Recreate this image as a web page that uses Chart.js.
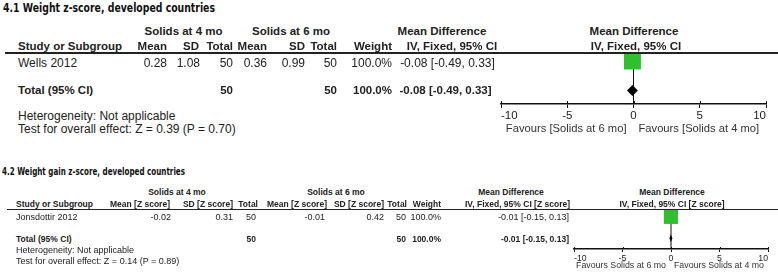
<!DOCTYPE html>
<html>
<head>
<meta charset="utf-8">
<script src="https://cdn.jsdelivr.net/npm/chart.js@4.4.1/dist/chart.umd.min.js"></script>
<style>
  html, body { margin: 0; padding: 0; background: #fff; }
  #stage { position: relative; width: 778px; height: 272px; overflow: hidden; font-family: "Liberation Sans", Arial, Helvetica, sans-serif; color: #222; }
  .txt { position: absolute; white-space: nowrap; }
  .title { font-family: "DejaVu Sans Condensed", "Liberation Sans Narrow", "Liberation Sans", sans-serif; font-weight: bold; font-stretch: condensed; transform-origin: left center; color: #111; }
  .rule { position: absolute; background: #222; }
  canvas { position: absolute; }
</style>
</head>
<body>
<div id="stage">
  <canvas id="plot1" width="298" height="100" style="left:480px; top:40px;"></canvas>
  <canvas id="plot2" width="218" height="72" style="left:560px; top:200px;"></canvas>
</div>
<script>
// 4.1 Weight z-score
const studies1 = ['Wells 2012'];
const mean4_1 = [0.28];
const sd4_1 = [1.08];
const n4_1 = [50];
const mean6_1 = [0.36];
const sd6_1 = [0.99];
const n6_1 = [50];
const weight1 = [100.0];
const md1 = [-0.08];
const lo1 = [-0.49];
const hi1 = [0.33];
const total1 = { n4: 50, n6: 50, weight: 100.0, md: -0.08, lo: -0.49, hi: 0.33 };
const effect1 = 'Test for overall effect: Z = 0.39 (P = 0.70)';

// 4.2 Weight gain z-score
const studies2 = ['Jonsdottir 2012'];
const mean4_2 = [-0.02];
const sd4_2 = [0.31];
const n4_2 = [50];
const mean6_2 = [-0.01];
const sd6_2 = [0.42];
const n6_2 = [50];
const weight2 = [100.0];
const md2 = [-0.01];
const lo2 = [-0.15];
const hi2 = [0.13];
const total2 = { n4: 50, n6: 50, weight: 100.0, md: -0.01, lo: -0.15, hi: 0.13 };
const effect2 = 'Test for overall effect: Z = 0.14 (P = 0.89)';

const xTicks = [-10, -5, 0, 5, 10];

const GREEN = '#2fbf2f';
const FONT = '"Liberation Sans", Arial, Helvetica, sans-serif';

const stage = document.getElementById('stage');

function put(text, x, y, o = {}) {
  const d = document.createElement('div');
  d.className = 'txt' + (o.cls ? ' ' + o.cls : '');
  d.textContent = text;
  const size = o.size || 12;
  d.style.fontSize = size + 'px';
  d.style.lineHeight = size + 'px';
  d.style.top = (y - size / 2) + 'px';
  if (o.bold) d.style.fontWeight = 'bold';
  if (o.align === 'right') {
    d.style.left = (x - 400) + 'px'; d.style.width = '400px'; d.style.textAlign = 'right';
  } else if (o.align === 'center') {
    d.style.left = (x - 200) + 'px'; d.style.width = '400px'; d.style.textAlign = 'center';
  } else {
    d.style.left = x + 'px';
  }
  stage.appendChild(d);
  return d;
}

function rule(x, y, w, h) {
  const d = document.createElement('div');
  d.className = 'rule';
  d.style.left = x + 'px'; d.style.top = y + 'px';
  d.style.width = w + 'px'; d.style.height = h + 'px';
  stage.appendChild(d);
}

// squeeze a title to the width it has in the figure
function fitTitle(el, w) {
  const r = el.getBoundingClientRect().width;
  if (r > 0) el.style.transform = 'scaleX(' + (w / r) + ')';
}

const fmt = v => v.toFixed(2);
const ci = (m, l, h) => `${fmt(m)} [${fmt(l)}, ${fmt(h)}]`;

// ---------- panel 1 table ----------
{
  const s = 12, b = 11.5;
  const t = put('4.1 Weight z-score, developed countries', 3, 7, { cls: 'title', size: 13 });
  fitTitle(t, 212);

  put('Solids at 4 mo', 183.5, 32, { align: 'center', bold: true, size: b });
  put('Solids at 6 mo', 291, 32, { align: 'center', bold: true, size: b });
  put('Mean Difference', 442, 32, { align: 'center', bold: true, size: b });
  put('Mean Difference', 634, 32, { align: 'center', bold: true, size: b });

  put('Study or Subgroup', 18, 47, { bold: true, size: b });
  put('Mean', 167, 47, { align: 'right', bold: true, size: b });
  put('SD', 199, 47, { align: 'right', bold: true, size: b });
  put('Total', 233, 47, { align: 'right', bold: true, size: b });
  put('Mean', 267, 47, { align: 'right', bold: true, size: b });
  put('SD', 305, 47, { align: 'right', bold: true, size: b });
  put('Total', 337, 47, { align: 'right', bold: true, size: b });
  put('Weight', 392, 47, { align: 'right', bold: true, size: b });
  put('IV, Fixed, 95% CI', 452, 47, { align: 'center', bold: true, size: b });
  put('IV, Fixed, 95% CI', 636, 47, { align: 'center', bold: true, size: b });

  rule(5, 52, 773, 2);

  studies1.forEach((name, i) => {
    const y = 63 + i * 15;
    put(name, 18, y, { size: s });
    put(fmt(mean4_1[i]), 167, y, { align: 'right', size: s });
    put(fmt(sd4_1[i]), 200, y, { align: 'right', size: s });
    put(String(n4_1[i]), 233, y, { align: 'right', size: s });
    put(fmt(mean6_1[i]), 267, y, { align: 'right', size: s });
    put(fmt(sd6_1[i]), 305, y, { align: 'right', size: s });
    put(String(n6_1[i]), 337, y, { align: 'right', size: s });
    put(weight1[i].toFixed(1) + '%', 392, y, { align: 'right', size: s });
    put(ci(md1[i], lo1[i], hi1[i]), 447.5, y, { align: 'center', size: s });
  });

  put('Total (95% CI)', 18, 91, { bold: true, size: b });
  put(String(total1.n4), 233, 91, { align: 'right', bold: true, size: b });
  put(String(total1.n6), 337, 91, { align: 'right', bold: true, size: b });
  put(total1.weight.toFixed(1) + '%', 392, 91, { align: 'right', bold: true, size: b });
  put(ci(total1.md, total1.lo, total1.hi), 445.5, 91, { align: 'center', bold: true, size: b });
  put('Heterogeneity: Not applicable', 18, 116, { size: s });
  put(effect1, 18, 129, { size: s });
}

// ---------- panel 2 table ----------
{
  const s = 9, b = 8.5;
  const t = put('4.2 Weight gain z-score, developed countries', 2, 171, { cls: 'title', size: 10.5 });
  fitTitle(t, 183);

  put('Solids at 4 mo', 177, 192, { align: 'center', bold: true, size: b });
  put('Solids at 6 mo', 336, 192, { align: 'center', bold: true, size: b });
  put('Mean Difference', 511, 192, { align: 'center', bold: true, size: b });
  put('Mean Difference', 672, 192, { align: 'center', bold: true, size: b });

  put('Study or Subgroup', 16, 204, { bold: true, size: b });
  put('Mean [Z score]', 170, 204, { align: 'right', bold: true, size: b });
  put('SD [Z score]', 233, 204, { align: 'right', bold: true, size: b });
  put('Total', 258, 204, { align: 'right', bold: true, size: b });
  put('Mean [Z score]', 327, 204, { align: 'right', bold: true, size: b });
  put('SD [Z score]', 384, 204, { align: 'right', bold: true, size: b });
  put('Total', 407, 204, { align: 'right', bold: true, size: b });
  put('Weight', 441, 204, { align: 'right', bold: true, size: b });
  put('IV, Fixed, 95% CI [Z score]', 570, 204, { align: 'right', bold: true, size: b });
  put('IV, Fixed, 95% CI [Z score]', 672, 204, { align: 'center', bold: true, size: b });

  rule(7, 208.5, 771, 1.5);

  studies2.forEach((name, i) => {
    const y = 217.5 + i * 11;
    put(name, 16, y, { size: s });
    put(fmt(mean4_2[i]), 171, y, { align: 'right', size: s });
    put(fmt(sd4_2[i]), 233, y, { align: 'right', size: s });
    put(String(n4_2[i]), 256, y, { align: 'right', size: s });
    put(fmt(mean6_2[i]), 325, y, { align: 'right', size: s });
    put(fmt(sd6_2[i]), 384, y, { align: 'right', size: s });
    put(String(n6_2[i]), 406, y, { align: 'right', size: s });
    put(weight2[i].toFixed(1) + '%', 441, y, { align: 'right', size: s });
    put(ci(md2[i], lo2[i], hi2[i]), 569, y, { align: 'right', size: s });
  });

  put('Total (95% CI)', 16, 239, { bold: true, size: b });
  put(String(total2.n4), 256, 239, { align: 'right', bold: true, size: b });
  put(String(total2.n6), 406, 239, { align: 'right', bold: true, size: b });
  put(total2.weight.toFixed(1) + '%', 441, 239, { align: 'right', bold: true, size: b });
  put(ci(total2.md, total2.lo, total2.hi), 569, 239, { align: 'right', bold: true, size: b });
  put('Heterogeneity: Not applicable', 16, 250, { size: s });
  put(effect2, 16, 261, { size: s });
}

// ---------- forest plot drawing ----------
const forestPlugin = {
  id: 'forest',
  beforeDatasetsDraw(chart, args, opts) {
    const { ctx, chartArea, scales: { x, y } } = chart;
    const x0 = x.getPixelForValue(0);
    ctx.save();
    ctx.strokeStyle = '#111';
    ctx.lineWidth = 1;
    ctx.beginPath();
    ctx.moveTo(x0, chartArea.top);
    ctx.lineTo(x0, chartArea.bottom);
    // study confidence intervals
    opts.lo.forEach((lo, i) => {
      const py = y.getPixelForValue(i);
      ctx.moveTo(x.getPixelForValue(lo), py);
      ctx.lineTo(x.getPixelForValue(opts.hi[i]), py);
    });
    ctx.stroke();
    // pooled diamond
    const t = opts.total;
    const ty = y.getPixelForValue(opts.lo.length);
    const h = opts.diamondH;
    ctx.fillStyle = '#000';
    ctx.beginPath();
    ctx.moveTo(x.getPixelForValue(t.lo), ty);
    ctx.lineTo(x.getPixelForValue(t.md), ty - h);
    ctx.lineTo(x.getPixelForValue(t.hi), ty);
    ctx.lineTo(x.getPixelForValue(t.md), ty + h);
    ctx.closePath();
    ctx.fill();
    ctx.restore();
  },
  afterDraw(chart, args, opts) {
    const { ctx, chartArea, scales: { x } } = chart;
    const x0 = x.getPixelForValue(0);
    ctx.save();
    ctx.strokeStyle = '#111';
    ctx.lineWidth = 1;
    ctx.beginPath();
    x.ticks.forEach(t => {
      const px = Math.round(x.getPixelForValue(t.value)) + 0.5;
      ctx.moveTo(px, chartArea.bottom - opts.tickUp);
      ctx.lineTo(px, chartArea.bottom);
    });
    ctx.stroke();
    ctx.fillStyle = '#333';
    ctx.font = opts.favSize + 'px ' + FONT;
    ctx.textBaseline = 'middle';
    const fy = chartArea.bottom + opts.favY;
    ctx.textAlign = 'right';
    ctx.fillText(opts.favLeft, x0 - opts.favGapL, fy);
    ctx.textAlign = 'left';
    ctx.fillText(opts.favRight, x0 + opts.favGapR, fy);
    ctx.restore();
  }
};

function forestChart(id, cfg) {
  return new Chart(document.getElementById(id), {
    type: 'scatter',
    data: {
      datasets: [{
        data: cfg.md.map((v, i) => ({ x: v, y: i })),
        pointStyle: 'rect',
        pointRadius: cfg.radius,
        backgroundColor: GREEN,
        borderWidth: 0
      }]
    },
    options: {
      responsive: false,
      animation: false,
      events: [],
      layout: { padding: cfg.padding },
      plugins: {
        legend: { display: false },
        tooltip: { enabled: false },
        forest: {
          lo: cfg.lo, hi: cfg.hi, total: cfg.total, diamondH: cfg.diamondH,
          tickUp: cfg.tickUp, favSize: cfg.favSize, favY: cfg.favY,
          favGapL: cfg.favGapL, favGapR: cfg.favGapR,
          favLeft: cfg.favLeft, favRight: cfg.favRight
        }
      },
      scales: {
        x: {
          type: 'linear',
          min: xTicks[0],
          max: xTicks[xTicks.length - 1],
          afterBuildTicks: s => { s.ticks = xTicks.map(v => ({ value: v })); },
          afterFit: s => { s.height = cfg.axisH; },
          grid: { drawOnChartArea: false, tickLength: cfg.tickDown, color: '#111', lineWidth: 1 },
          border: { display: true, color: '#111', width: 1.5 },
          ticks: { align: 'inner', padding: 1, maxRotation: 0, color: '#222', font: { family: FONT, size: cfg.tickSize } }
        },
        y: { display: false, reverse: true, min: cfg.yMin, max: cfg.yMax }
      }
    },
    plugins: [forestPlugin]
  });
}

forestChart('plot1', {
  md: md1, lo: lo1, hi: hi1, total: total1,
  radius: 12, diamondH: 5.5,
  padding: { left: 21, right: 10, top: 13, bottom: 0 },
  axisH: 36, yMin: -0.27, yMax: 1.46,
  tickUp: 3, tickDown: 4, tickSize: 11.5,
  favSize: 11.2, favY: 25, favGapL: 7, favGapR: 5,
  favLeft: 'Favours [Solids at 6 mo]', favRight: 'Favours [Solids at 4 mo]'
});

forestChart('plot2', {
  md: md2, lo: lo2, hi: hi2, total: total2,
  radius: 10, diamondH: 4,
  padding: { left: 14, right: 8, top: 9, bottom: 0 },
  axisH: 23, yMin: -0.32, yMax: 1.5,
  tickUp: 2, tickDown: 3, tickSize: 8.7,
  favSize: 8.8, favY: 17, favGapL: 5, favGapR: 3,
  favLeft: 'Favours Solids at 6 mo', favRight: 'Favours Solids at 4 mo'
});
</script>
</body>
</html>
